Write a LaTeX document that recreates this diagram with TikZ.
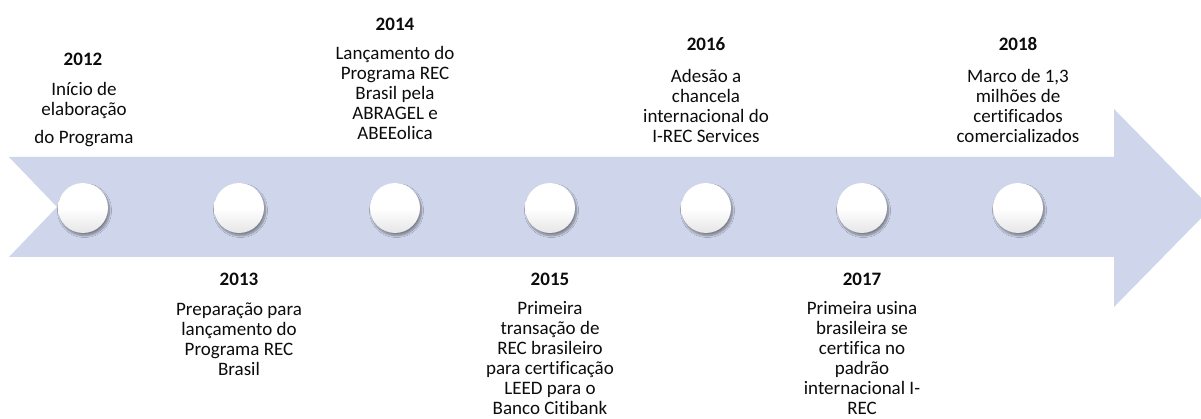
\documentclass[tikz,border=0pt]{standalone}
\usepackage{fontspec}
\setmainfont{Carlito}[Ligatures=CommonOff]
\usetikzlibrary{shadows.blur}
\definecolor{arrowfill}{RGB}{207,213,234}
\definecolor{txt}{RGB}{12,12,12}
\pgfdeclareverticalshading{ballshade}{100bp}{color(0bp)=(black!18); color(25bp)=(black!10); color(50bp)=(white); color(100bp)=(white)}
\tikzset{
  ball/.style={circle, minimum size=50pt, inner sep=0pt, shading=ballshade,
    blur shadow={shadow xshift=1.5pt, shadow yshift=-2.5pt, shadow opacity=40, shadow blur steps=8, shadow blur extra rounding=1.2pt}},
  year/.style={font=\fontsize{19pt}{20pt}\selectfont\bfseries, text=txt, inner sep=0pt, anchor=center},
  body/.style={font=\fontsize{19pt}{20pt}\selectfont, text=txt, inner sep=0pt, anchor=north, align=center}
}
\newcommand{\fl}{\rule{0pt}{13pt}}
\begin{document}
\begin{tikzpicture}[x=1pt,y=-1pt]
\useasboundingbox (0,0) rectangle (1201,419);
\clip (0,0) rectangle (1201,419);
\fill[white] (0,0) rectangle (1201,419);
% arrow
\fill[arrowfill] (9,157) -- (1114,157) -- (1114,109) -- (1211,208) -- (1114,307) -- (1114,257) -- (9,257) -- (57,207) -- cycle;
% circles
\node[ball] (c1) at (83,208) {};
\node[ball] (c2) at (239,208) {};
\node[ball] (c3) at (395,208) {};
\node[ball] (c4) at (550,208) {};
\node[ball] (c5) at (706,208) {};
\node[ball] (c6) at (862,208) {};
\node[ball] (c7) at (1018,208) {};
% years
\node[year] (y12) at (83,59) {2012};
\node[year] (y13) at (239,279) {2013};
\node[year] (y14) at (395,24) {2014};
\node[year] (y15) at (550,279) {2015};
\node[year] (y16) at (706,44) {2016};
\node[year] (y17) at (862,279) {2017};
\node[year] (y18) at (1018,44) {2018};
% bodies
\node[body] (t12) at (84,82) {\fl Início de\\elaboração\\[8pt] do Programa};
\node[body] (t13) at (239,302) {\fl Preparação para\\lançamento do\\Programa REC\\Brasil};
\node[body] (t14) at (395,46) {\fl Lançamento do\\Programa REC\\Brasil pela\\ABRAGEL e\\ABEEolica};
\node[body] (t15) at (550,301.5) {\fl Primeira\\transação de\\REC brasileiro\\para certificação\\LEED para o\\Banco Citibank};
\node[body] (t16) at (706,69) {\fl Adesão a\\chancela\\internacional do\\I-REC Services};
\node[body] (t17) at (862,301.5) {\fl Primeira usina\\brasileira se\\certifica no\\padrão\\internacional I-\\REC};
\node[body] (t18) at (1018,69) {\fl Marco de 1,3\\milhões de\\certificados\\comercializados};
\end{tikzpicture}
\end{document}
